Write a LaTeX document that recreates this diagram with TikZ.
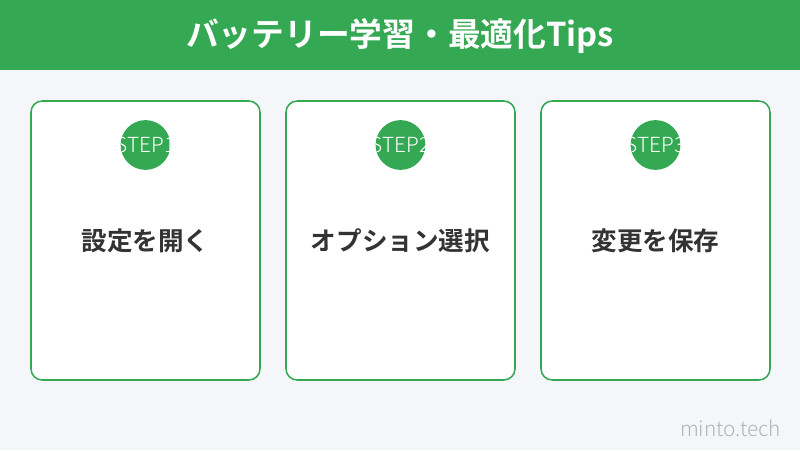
\documentclass[tikz,border=0pt]{standalone}
\usepackage{fontspec}
\setmainfont{Noto Sans CJK JP}
\newfontfamily\jpbold{Noto Sans CJK JP Bold}
\newfontfamily\jplight{Noto Sans CJK JP Light}
\usetikzlibrary{positioning}

\definecolor{mintgreen}{HTML}{34A853}
\definecolor{pagebg}{HTML}{F4F6FA}
\definecolor{inkgray}{HTML}{333333}
\definecolor{markgray}{HTML}{B4B4B4}

\tikzset{
  card/.style={draw=mintgreen, line width=1.1pt, fill=white, rounded corners=8pt},
  stepdot/.style={circle, fill=mintgreen, minimum size=35.4pt, inner sep=0pt},
  steptext/.style={text=white, font=\jplight\fontsize{14.8}{14.8}\selectfont, inner sep=0pt},
  cardtext/.style={text=inkgray, font=\jpbold\fontsize{18.2}{18.2}\selectfont}
}

\begin{document}
\begin{tikzpicture}[x=0.025cm, y=-0.025cm]

\fill[pagebg] (0,0) rectangle (800,450);
\useasboundingbox (0,0) rectangle (800,450);

% header
\fill[mintgreen] (0,0) rectangle (800,70);
\node[text=white, font=\jpbold\fontsize{23.3}{23.3}\selectfont] (title) at (400,36) {バッテリー学習・最適化Tips};

% step 1
\def\x{31}
\draw[card] (\x,101) rectangle (\x + 229,380);
\node[stepdot] (dot1) at (\x + 114.5,145) {};
\begin{scope}
\clip (dot1) circle (25);
\node[steptext] (step1) at (dot1) {STEP1};
\end{scope}
\node[cardtext] (task1) at (\x + 114.5,241) {設定を開く};

% step 2
\def\x{286}
\draw[card] (\x,101) rectangle (\x + 229,380);
\node[stepdot] (dot2) at (\x + 114.5,145) {};
\begin{scope}
\clip (dot2) circle (25);
\node[steptext] (step2) at (dot2) {STEP2};
\end{scope}
\node[cardtext] (task2) at (\x + 114.5,241) {オプション選択};

% step 3
\def\x{541}
\draw[card] (\x,101) rectangle (\x + 229,380);
\node[stepdot] (dot3) at (\x + 114.5,145) {};
\begin{scope}
\clip (dot3) circle (25);
\node[steptext] (step3) at (dot3) {STEP3};
\end{scope}
\node[cardtext] (task3) at (\x + 114.5,241) {変更を保存};

% footer
\node[text=markgray, font=\jplight\fontsize{14.8}{14.8}\selectfont, anchor=east] (mark) at (786,428) {minto.tech};

\end{tikzpicture}
\end{document}
